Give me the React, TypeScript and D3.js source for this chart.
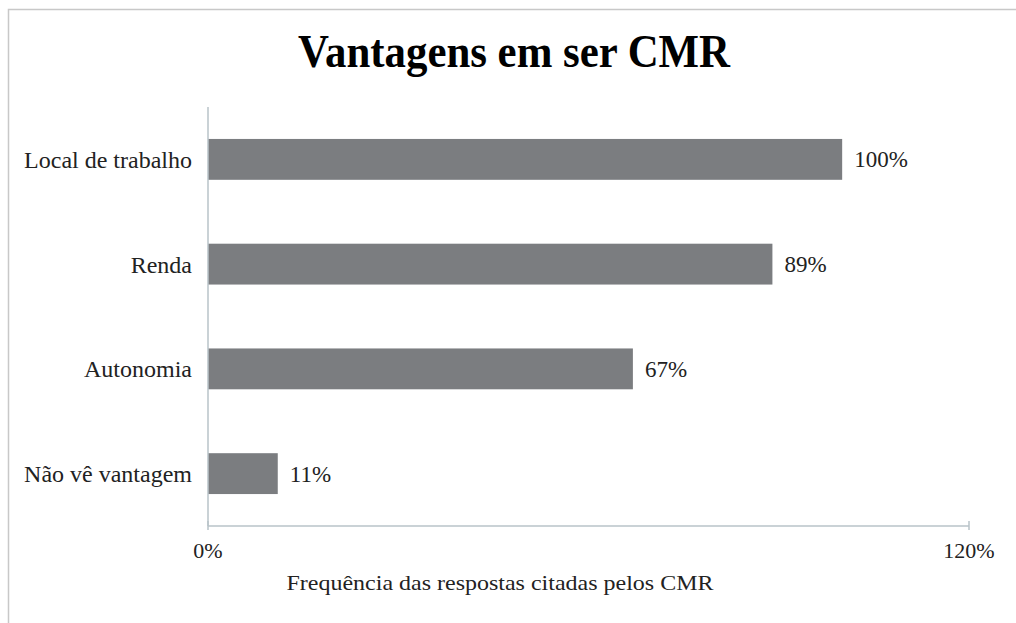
import { useEffect, useRef } from 'react';
import * as d3 from 'd3';

const categories = ['Local de trabalho', 'Renda', 'Autonomia', 'Não vê vantagem'];
const values = [100, 89, 67, 11];
const xTicks = [0, 120];

const W = 1016;
const H = 623;
const FONT = "'Liberation Serif', 'Times New Roman', serif";

export default function App() {
    const svgRef = useRef<SVGSVGElement>(null);

    useEffect(() => {
        const svg = d3.select(svgRef.current);
        svg.selectAll('*').remove();

        const left = 208, right = 969, top = 107, bottom = 526;

        const x = d3.scaleLinear().domain([0, 120]).range([left, right]);
        const y = d3.scaleBand().domain(categories).range([top, bottom]).paddingInner(0.61).paddingOuter(0.305);

        svg.append('rect').attr('width', W).attr('height', H).attr('fill', '#fff');

        // outer frame (top and left only visible)
        svg.append('path')
            .attr('d', `M8.5,${H} L8.5,9.5 L${W},9.5`)
            .attr('fill', 'none')
            .attr('stroke', '#c8c8c8')
            .attr('stroke-width', 1.5);

        svg.append('text')
            .attr('x', 514)
            .attr('y', 67)
            .attr('text-anchor', 'middle')
            .attr('font-family', FONT)
            .attr('font-weight', 'bold')
            .attr('font-size', 46)
            .attr('textLength', 432)
            .attr('lengthAdjust', 'spacingAndGlyphs')
            .attr('fill', '#000')
            .text('Vantagens em ser CMR');

        // bars
        svg.selectAll('.bar')
            .data(values)
            .enter()
            .append('rect')
            .attr('class', 'bar')
            .attr('x', x(0))
            .attr('y', (d, i) => y(categories[i])!)
            .attr('width', d => x(d) - x(0))
            .attr('height', y.bandwidth())
            .attr('fill', '#7b7d80');

        // value labels
        svg.selectAll('.val')
            .data(values)
            .enter()
            .append('text')
            .attr('class', 'val')
            .attr('x', d => x(d) + 12)
            .attr('y', (d, i) => y(categories[i])! + y.bandwidth() / 2)
            .attr('dy', '0.35em')
            .attr('font-family', FONT)
            .attr('font-size', 23)
            .attr('fill', '#222')
            .text(d => `${d}%`);

        // category labels
        svg.selectAll('.cat')
            .data(categories)
            .enter()
            .append('text')
            .attr('class', 'cat')
            .attr('x', left - 16)
            .attr('y', d => y(d)! + y.bandwidth() / 2)
            .attr('dy', '0.35em')
            .attr('text-anchor', 'end')
            .attr('font-family', FONT)
            .attr('font-size', 24)
            .attr('fill', '#222')
            .text(d => d);

        // axes
        svg.append('line')
            .attr('x1', left).attr('x2', left)
            .attr('y1', top).attr('y2', bottom)
            .attr('stroke', '#b9c3c8').attr('stroke-width', 1.5);

        svg.append('line')
            .attr('x1', left).attr('x2', right)
            .attr('y1', bottom).attr('y2', bottom)
            .attr('stroke', '#b9c3c8').attr('stroke-width', 1.5);

        svg.selectAll('.tick')
            .data(xTicks)
            .enter()
            .append('line')
            .attr('class', 'tick')
            .attr('x1', d => x(d)).attr('x2', d => x(d))
            .attr('y1', bottom - 5).attr('y2', bottom + 4)
            .attr('stroke', '#b9c3c8').attr('stroke-width', 1.5);

        svg.selectAll('.tlabel')
            .data(xTicks)
            .enter()
            .append('text')
            .attr('class', 'tlabel')
            .attr('x', d => x(d))
            .attr('y', 558)
            .attr('text-anchor', 'middle')
            .attr('font-family', FONT)
            .attr('font-size', 22)
            .attr('fill', '#222')
            .text(d => `${d}%`);

        svg.append('text')
            .attr('x', 500)
            .attr('y', 590)
            .attr('text-anchor', 'middle')
            .attr('font-family', FONT)
            .attr('font-size', 22)
            .attr('textLength', 427)
            .attr('lengthAdjust', 'spacingAndGlyphs')
            .attr('fill', '#222')
            .text('Frequência das respostas citadas pelos  CMR');
    }, []);

    return (
        <svg
            ref={svgRef}
            width={W}
            height={H}
            style={{ position: 'absolute', left: 0, top: 0, display: 'block' }}
        />
    );
}
